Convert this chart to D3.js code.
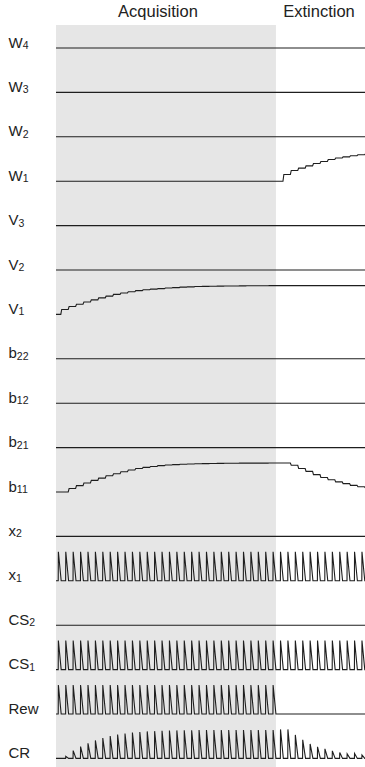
<!DOCTYPE html>
<html>
<head>
<meta charset="utf-8">
<script src="https://cdn.jsdelivr.net/npm/d3@7"></script>
<style>
  body { margin: 0; background: #fff; }
  svg { display: block; }
  text { font-family: "Liberation Sans", Arial, Helvetica, sans-serif; fill: #222; }
</style>
</head>
<body>
<div id="chart"></div>
<script>
// chart nominal area
var svgWidth = 365;
var svgHeight = 767;

// phase titles
var phases = ['Acquisition', 'Extinction'];
var nAcq = 30;   // acquisition trials
var nTrials = 42; // acquisition + extinction

// row names, top to bottom
var rows = ['W4', 'W3', 'W2', 'W1', 'V3', 'V2', 'V1', 'b22', 'b12', 'b21', 'b11', 'x2', 'x1', 'CS2', 'CS1', 'Rew', 'CR'];
var labelMain = ['W', 'W', 'W', 'W', 'V', 'V', 'V', 'b', 'b', 'b', 'b', 'x', 'x', 'CS', 'CS', 'Rew', 'CR'];
var labelSub = ['4', '3', '2', '1', '3', '2', '1', '22', '12', '21', '11', '2', '1', '2', '1', '', ''];

// stepped weights, value after each trial (30 acquisition + 12 extinction)
var V1 = [0.17, 0.27, 0.35, 0.43, 0.50, 0.57, 0.63, 0.69, 0.74, 0.78,
          0.82, 0.85, 0.87, 0.89, 0.91, 0.925, 0.94, 0.95, 0.96, 0.965,
          0.97, 0.975, 0.978, 0.981, 0.984, 0.986, 0.988, 0.99, 0.991, 0.992,
          0.992, 0.992, 0.992, 0.992, 0.992, 0.992, 0.992, 0.992, 0.992, 0.992, 0.992, 0.992];
var W1 = [0, 0, 0, 0, 0, 0, 0, 0, 0, 0,
          0, 0, 0, 0, 0, 0, 0, 0, 0, 0,
          0, 0, 0, 0, 0, 0, 0, 0, 0, 0,
          0.23, 0.37, 0.45, 0.53, 0.61, 0.68, 0.75, 0.80, 0.84, 0.88, 0.91, 0.94];
var b11 = [0, 0.12, 0.22, 0.31, 0.40, 0.48, 0.56, 0.63, 0.70, 0.76,
           0.81, 0.85, 0.88, 0.91, 0.93, 0.945, 0.955, 0.965, 0.972, 0.978,
           0.983, 0.987, 0.99, 0.992, 0.994, 0.995, 0.996, 0.997, 0.998, 0.998,
           0.998, 0.92, 0.81, 0.71, 0.60, 0.50, 0.42, 0.35, 0.29, 0.23, 0.18, 0.15];

// pulse peaks per trial
var x1 = [1, 1, 1, 1, 1, 1, 1, 1, 1, 1, 1, 1, 1, 1, 1, 1, 1, 1, 1, 1, 1,
          1, 1, 1, 1, 1, 1, 1, 1, 1, 1, 1, 1, 1, 1, 1, 1, 1, 1, 1, 1, 1];
var CS1 = [1, 1, 1, 1, 1, 1, 1, 1, 1, 1, 1, 1, 1, 1, 1, 1, 1, 1, 1, 1, 1,
           1, 1, 1, 1, 1, 1, 1, 1, 1, 1, 1, 1, 1, 1, 1, 1, 1, 1, 1, 1, 1];
var Rew = [1, 1, 1, 1, 1, 1, 1, 1, 1, 1, 1, 1, 1, 1, 1, 1, 1, 1, 1, 1, 1,
           1, 1, 1, 1, 1, 1, 1, 1, 1, 0, 0, 0, 0, 0, 0, 0, 0, 0, 0, 0, 0];
var CR = [0, 0.07, 0.27, 0.41, 0.52, 0.62, 0.70, 0.77, 0.82, 0.86,
          0.89, 0.91, 0.93, 0.94, 0.95, 0.96, 0.965, 0.97, 0.97, 0.975,
          0.975, 0.98, 0.98, 0.98, 0.98, 0.98, 0.98, 0.98, 0.98, 0.98,
          1.0, 1.0, 0.81, 0.64, 0.50, 0.40, 0.33, 0.26, 0.20, 0.16, 0.17, 0.12];

var stepSeries = { V1: V1, W1: W1, b11: b11 };
var pulseSeries = { x1: x1, CS1: CS1, Rew: Rew, CR: CR };

var svg = d3.select('#chart')
    .append('svg')
    .attr('width', svgWidth)
    .attr('height', svgHeight);

// time scale in trials
var xScale = d3.scaleLinear()
    .domain([0, nTrials])
    .range([56, 367]);

// baseline of each row
var rowScale = d3.scalePoint()
    .domain(rows)
    .range([48, 758.4]);

var amp = 29; // px for value 1

// shaded acquisition period
svg.append('rect')
    .attr('x', xScale(0))
    .attr('y', 25)
    .attr('width', xScale(nAcq - 0.3) - xScale(0))
    .attr('height', svgHeight - 25)
    .attr('fill', '#e6e6e6');

// phase titles
svg.selectAll('.phase')
    .data(phases)
    .enter()
    .append('text')
    .attr('class', 'phase')
    .attr('x', (d, i) => i === 0 ? 158 : 319)
    .attr('y', 17)
    .attr('text-anchor', 'middle')
    .style('font-size', '16.5px')
    .text(d => d);

// build the points of a row
function rowPoints(name) {
    var pts = [[0, 0]];
    if (stepSeries[name]) {
        var prev = 0;
        stepSeries[name].forEach((v, i) => {
            if (v !== prev) {
                var t = i + 0.65;
                pts.push([t, prev], [t + 0.12, v]);
                prev = v;
            }
        });
        pts.push([nTrials, prev]);
    } else if (pulseSeries[name]) {
        pulseSeries[name].forEach((p, i) => {
            if (p > 0) {
                var t = i + 0.3;
                pts.push([t, 0], [t + 0.02, p], [t + 0.4, 0]);
            }
        });
        pts.push([nTrials, 0]);
    } else {
        pts.push([nTrials, 0]);
    }
    return pts;
}

var rowGroups = svg.selectAll('.row')
    .data(rows)
    .enter()
    .append('g')
    .attr('class', 'row');

// row labels with subscripts
var labels = rowGroups.append('text')
    .attr('x', 8.5)
    .attr('y', d => rowScale(d) - 0.5)
    .style('font-size', '15px');
labels.append('tspan')
    .text((d, i) => labelMain[i]);
labels.append('tspan')
    .attr('dy', 1.5)
    .style('font-size', '10.5px')
    .text((d, i) => labelSub[i]);

// traces
rowGroups.append('path')
    .attr('fill', 'none')
    .attr('stroke', '#1e1e1e')
    .attr('stroke-width', 1.1)
    .attr('stroke-linejoin', 'miter')
    .attr('d', d => {
        var y = d3.scaleLinear().domain([0, 1]).range([rowScale(d), rowScale(d) - amp]);
        return d3.line()
            .x(p => xScale(p[0]))
            .y(p => y(p[1]))(rowPoints(d));
    });
</script>
</body>
</html>
